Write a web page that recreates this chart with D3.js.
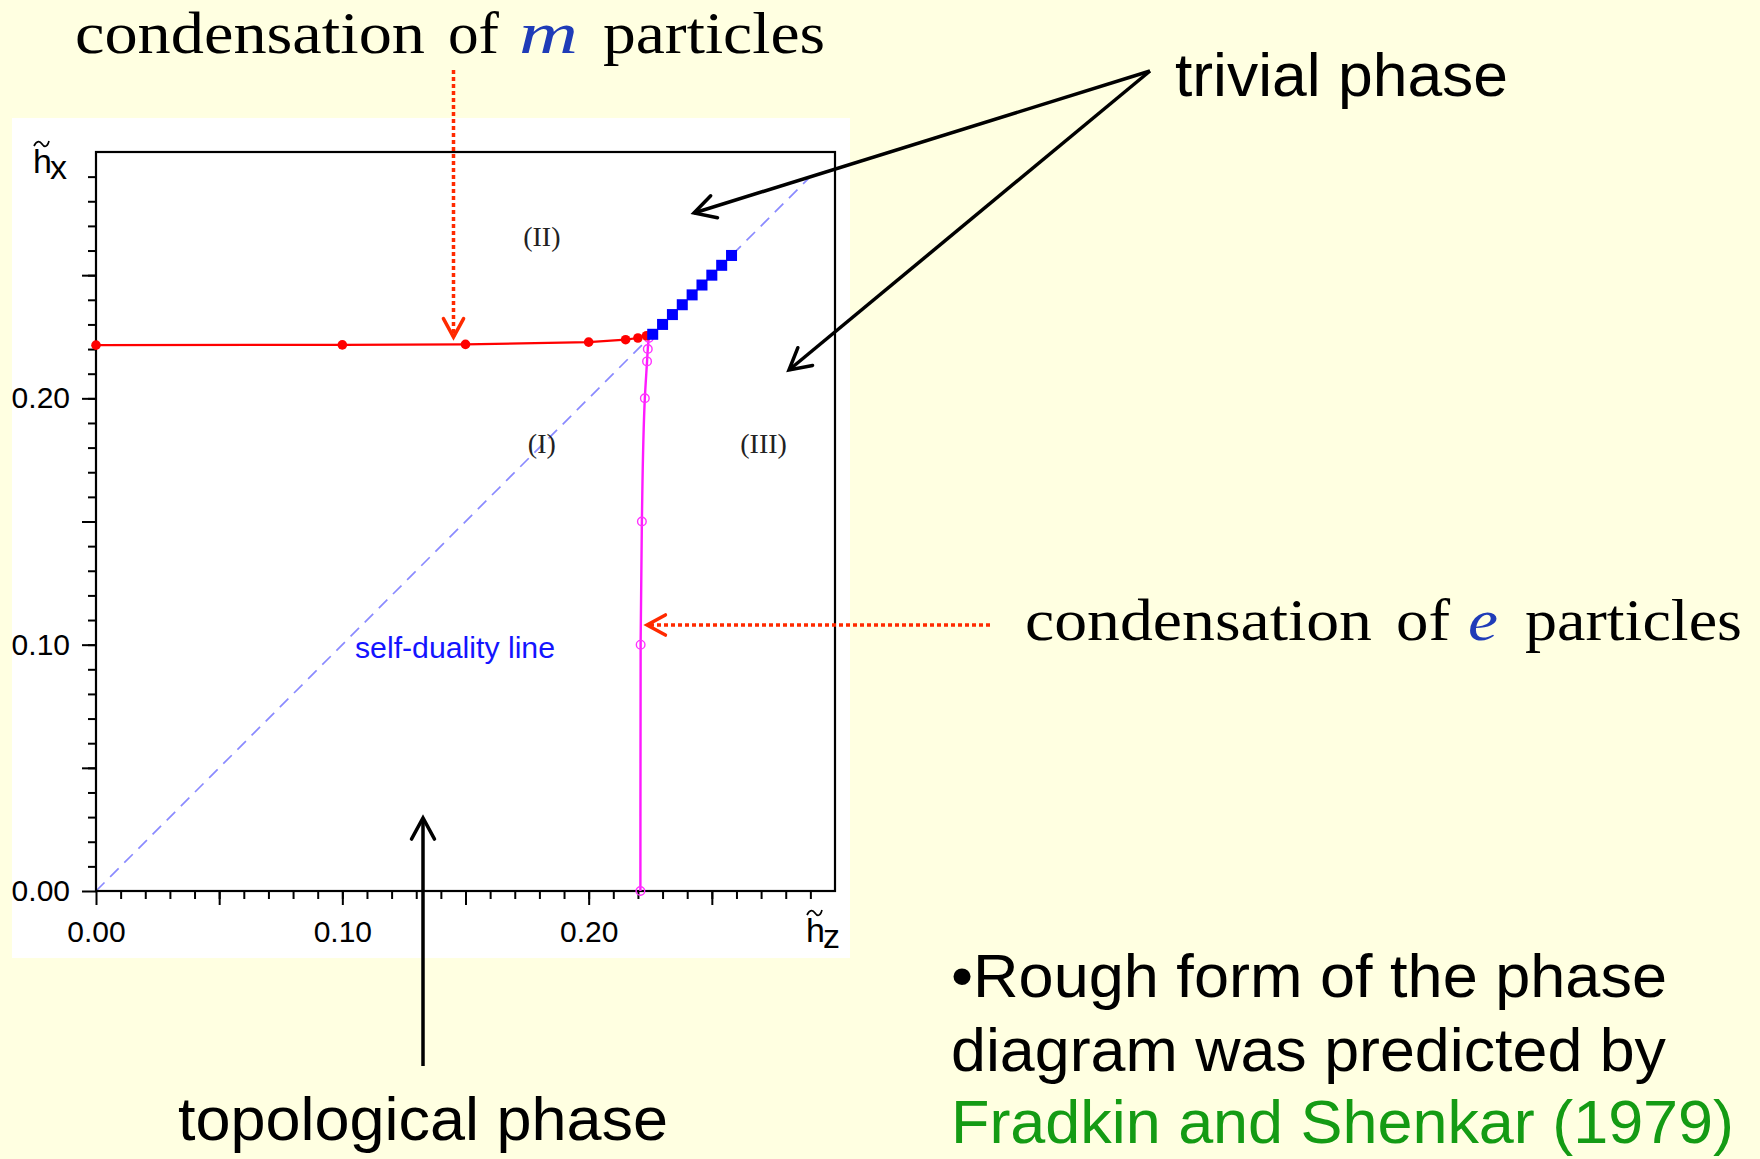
<!DOCTYPE html>
<html>
<head>
<meta charset="utf-8">
<script src="https://cdn.jsdelivr.net/npm/d3@7"></script>
<style>
  html, body { margin: 0; padding: 0; background: #ffffe1; }
  svg { display: block; }
</style>
</head>
<body>
<svg id="chart" width="1760" height="1159"></svg>
<script>
// ---- data: phase boundaries in the (h~z, h~x) plane ----
// m-particle condensation boundary (red, filled dots)
const mBoundaryHz = [0.000, 0.100, 0.150, 0.200, 0.215, 0.220, 0.2235];
const mBoundaryHx = [0.2216, 0.2217, 0.2219, 0.2228, 0.2238, 0.2245, 0.2254];
// e-particle condensation boundary (magenta, open circles)
const eBoundaryHz = [0.2210, 0.2211, 0.2216, 0.2228, 0.2237, 0.2240, 0.2244];
const eBoundaryHx = [0.000, 0.100, 0.150, 0.200, 0.215, 0.220, 0.2245];
// first-order line along the self-duality line (blue squares, h~z = h~x)
const dualPoints = [0.226, 0.230, 0.234, 0.238, 0.242, 0.246, 0.250, 0.254, 0.258];
// self-duality line end points
const dualityLine = [0.0, 0.29];
// axes
const axisDomain = [0, 0.30];
const minorTicks = d3.range(1, 30).map(i => i / 100);
const majorTicks = [0.00, 0.05, 0.10, 0.15, 0.20, 0.25];
const labelledTicks = [0.00, 0.10, 0.20];
const tickLabels = ["0.00", "0.10", "0.20"];
// region names
const regions = [
  { name: "(II)", hz: 0.181, hx: 0.262 },
  { name: "(I)", hz: 0.181, hx: 0.178 },
  { name: "(III)", hz: 0.271, hx: 0.178 }
];

const svg = d3.select("#chart");
const sans = "'Liberation Sans', Arial, sans-serif";
const serif = "'Liberation Serif', 'Times New Roman', serif";

svg.append("rect").attr("width", 1760).attr("height", 1159).attr("fill", "#ffffe1");

// white plot panel
svg.append("rect").attr("x", 12).attr("y", 118).attr("width", 838).attr("height", 840).attr("fill", "#ffffff");

const x = d3.scaleLinear().domain(axisDomain).range([96, 835]);
const y = d3.scaleLinear().domain(axisDomain).range([891, 152]);

// self-duality line
svg.append("line")
  .attr("x1", x(dualityLine[0])).attr("y1", y(dualityLine[0]))
  .attr("x2", x(dualityLine[1])).attr("y2", y(dualityLine[1]))
  .attr("stroke", "#8a8aff").attr("stroke-width", 1.7)
  .attr("stroke-dasharray", "12,8");

// axes: minor + major ticks, outward
const fmt = v => {
  const i = labelledTicks.findIndex(t => Math.abs(t - v) < 1e-9);
  return i >= 0 ? tickLabels[i] : "";
};
function styleAxis(g) {
  g.select(".domain").remove();
  g.selectAll(".tick line").attr("stroke", "#000").attr("stroke-width", 2);
  g.selectAll(".tick text").attr("fill", "#000").style("font-family", sans).style("font-size", "30px");
}
svg.append("g").attr("transform", "translate(0,891)")
  .call(d3.axisBottom(x).tickValues(minorTicks).tickSize(8).tickFormat(""))
  .call(styleAxis);
svg.append("g").attr("transform", "translate(0,891)")
  .call(d3.axisBottom(x).tickValues(majorTicks).tickSize(14).tickPadding(16).tickFormat(fmt))
  .call(styleAxis);
svg.append("g").attr("transform", "translate(96,0)")
  .call(d3.axisLeft(y).tickValues(minorTicks).tickSize(8).tickFormat(""))
  .call(styleAxis);
svg.append("g").attr("transform", "translate(96,0)")
  .call(d3.axisLeft(y).tickValues(majorTicks).tickSize(14).tickPadding(12).tickFormat(fmt))
  .call(styleAxis);

// frame
svg.append("rect").attr("x", 96).attr("y", 152).attr("width", 739).attr("height", 739)
  .attr("fill", "none").attr("stroke", "#000").attr("stroke-width", 2.2);

// axis titles h~x and h~z
function axisTitle(hx0, base, sub) {
  svg.append("text").attr("x", hx0).attr("y", base).text("h")
    .style("font-family", sans).style("font-size", "34px").attr("fill", "#000");
  svg.append("text").attr("x", hx0 + 17).attr("y", base + 6).text(sub)
    .style("font-family", sans).style("font-size", "34px").attr("fill", "#000");
  const tx = hx0 + 1, ty = base - 29;
  svg.append("path")
    .attr("d", `M${tx},${ty + 2} C${tx + 3},${ty - 4} ${tx + 6},${ty - 3} ${tx + 8},${ty} S${tx + 13},${ty + 4} ${tx + 15},${ty - 3}`)
    .attr("fill", "none").attr("stroke", "#000").attr("stroke-width", 1.7);
}
axisTitle(33, 173, "x");
axisTitle(806, 942, "z");

// boundaries
const mData = mBoundaryHz.map((v, i) => [v, mBoundaryHx[i]]);
const eData = eBoundaryHz.map((v, i) => [v, eBoundaryHx[i]]);
const line = d3.line().x(d => x(d[0])).y(d => y(d[1]));

svg.append("path").datum(mData).attr("d", line)
  .attr("fill", "none").attr("stroke", "#ff0000").attr("stroke-width", 2.2);
svg.append("path").datum(eData).attr("d", line.curve(d3.curveMonotoneY))
  .attr("fill", "none").attr("stroke", "#ff1aff").attr("stroke-width", 2.4);

svg.selectAll("circle.e").data(eData).enter().append("circle").attr("class", "e")
  .attr("cx", d => x(d[0])).attr("cy", d => y(d[1])).attr("r", 4.3)
  .attr("fill", "none").attr("stroke", "#ff33ff").attr("stroke-width", 1.4);
svg.selectAll("circle.m").data(mData).enter().append("circle").attr("class", "m")
  .attr("cx", d => x(d[0])).attr("cy", d => y(d[1])).attr("r", 4.8)
  .attr("fill", "#ff0000");
svg.selectAll("rect.dual").data(dualPoints).enter().append("rect").attr("class", "dual")
  .attr("x", d => x(d) - 5.5).attr("y", d => y(d) - 5.5).attr("width", 11).attr("height", 11)
  .attr("fill", "#0000ff");

// region names
svg.selectAll("text.region").data(regions).enter().append("text").attr("class", "region")
  .attr("x", d => x(d.hz)).attr("y", d => y(d.hx)).attr("text-anchor", "middle")
  .text(d => d.name).style("font-family", serif).style("font-size", "28px").attr("fill", "#222");

svg.append("text").attr("x", 455).attr("y", 658).attr("text-anchor", "middle")
  .text("self-duality line").attr("textLength", 200).attr("lengthAdjust", "spacingAndGlyphs")
  .style("font-family", sans).style("font-size", "29px")
  .attr("fill", "#1414ff");

// ---- annotations ----
function head(tipX, tipY, fromX, fromY, len, color, width) {
  const a = Math.atan2(fromY - tipY, fromX - tipX), s = 0.5;
  const p1 = [tipX + len * Math.cos(a + s), tipY + len * Math.sin(a + s)];
  const p2 = [tipX + len * Math.cos(a - s), tipY + len * Math.sin(a - s)];
  svg.append("path").attr("d", `M${p1[0]},${p1[1]} L${tipX},${tipY} L${p2[0]},${p2[1]}`)
    .attr("fill", "none").attr("stroke", color).attr("stroke-width", width)
    .attr("stroke-linejoin", "miter").attr("stroke-linecap", "round");
}
function arrow(x1, y1, x2, y2, color, width, dashed) {
  svg.append("line").attr("x1", x1).attr("y1", y1).attr("x2", x2).attr("y2", y2)
    .attr("stroke", color).attr("stroke-width", width)
    .attr("stroke-dasharray", dashed ? "4,3" : null);
  head(x2, y2, x1, y1, dashed ? 21 : 24, color, width);
}

// trivial phase
arrow(1150, 71, 694, 213, "#000", 3.5, false);
arrow(1150, 71, 789, 370, "#000", 3.5, false);
svg.append("text").attr("x", 1175).attr("y", 96).text("trivial phase")
  .attr("textLength", 333).attr("lengthAdjust", "spacingAndGlyphs")
  .style("font-family", sans).style("font-size", "62px").attr("fill", "#000");

// topological phase
arrow(423, 1066, 423, 818, "#000", 3.5, false);
svg.append("text").attr("x", 178).attr("y", 1140).text("topological phase")
  .attr("textLength", 490).attr("lengthAdjust", "spacingAndGlyphs")
  .style("font-family", sans).style("font-size", "62px").attr("fill", "#000");

// condensation labels (serif, particle symbol in blue italic)
function condLabel(words, base) {
  words.forEach(w => {
    svg.append("text").attr("x", w.x).attr("y", base).text(w.t)
      .attr("textLength", w.len).attr("lengthAdjust", "spacingAndGlyphs")
      .style("font-family", serif).style("font-size", "60px")
      .style("font-style", w.italic ? "italic" : "normal")
      .attr("fill", w.italic ? "#1f3cb8" : "#000");
  });
}
condLabel([
  { t: "condensation", x: 75, len: 350 },
  { t: "of", x: 448, len: 51 },
  { t: "m", x: 519, len: 59, italic: true },
  { t: "particles", x: 603, len: 222 }
], 53);
condLabel([
  { t: "condensation", x: 1025, len: 347 },
  { t: "of", x: 1396, len: 54 },
  { t: "e", x: 1468, len: 30, italic: true },
  { t: "particles", x: 1525, len: 217 }
], 640);

arrow(453.5, 70, 453.5, 337, "#ff2a00", 3.5, true);
arrow(990, 625, 647, 625, "#ff2a00", 3.5, true);

// note
const note = [
  { t: "\u2022Rough form of the phase", yb: 997, len: 716, c: "#000" },
  { t: "diagram was predicted by", yb: 1071, len: 715, c: "#000" },
  { t: "Fradkin and Shenkar (1979)", yb: 1143, len: 783, c: "#149b14" }
];
note.forEach(n => {
  svg.append("text").attr("x", 951).attr("y", n.yb).text(n.t)
    .attr("textLength", n.len).attr("lengthAdjust", "spacingAndGlyphs")
    .style("font-family", sans).style("font-size", "62px").attr("fill", n.c);
});
</script>
</body>
</html>
